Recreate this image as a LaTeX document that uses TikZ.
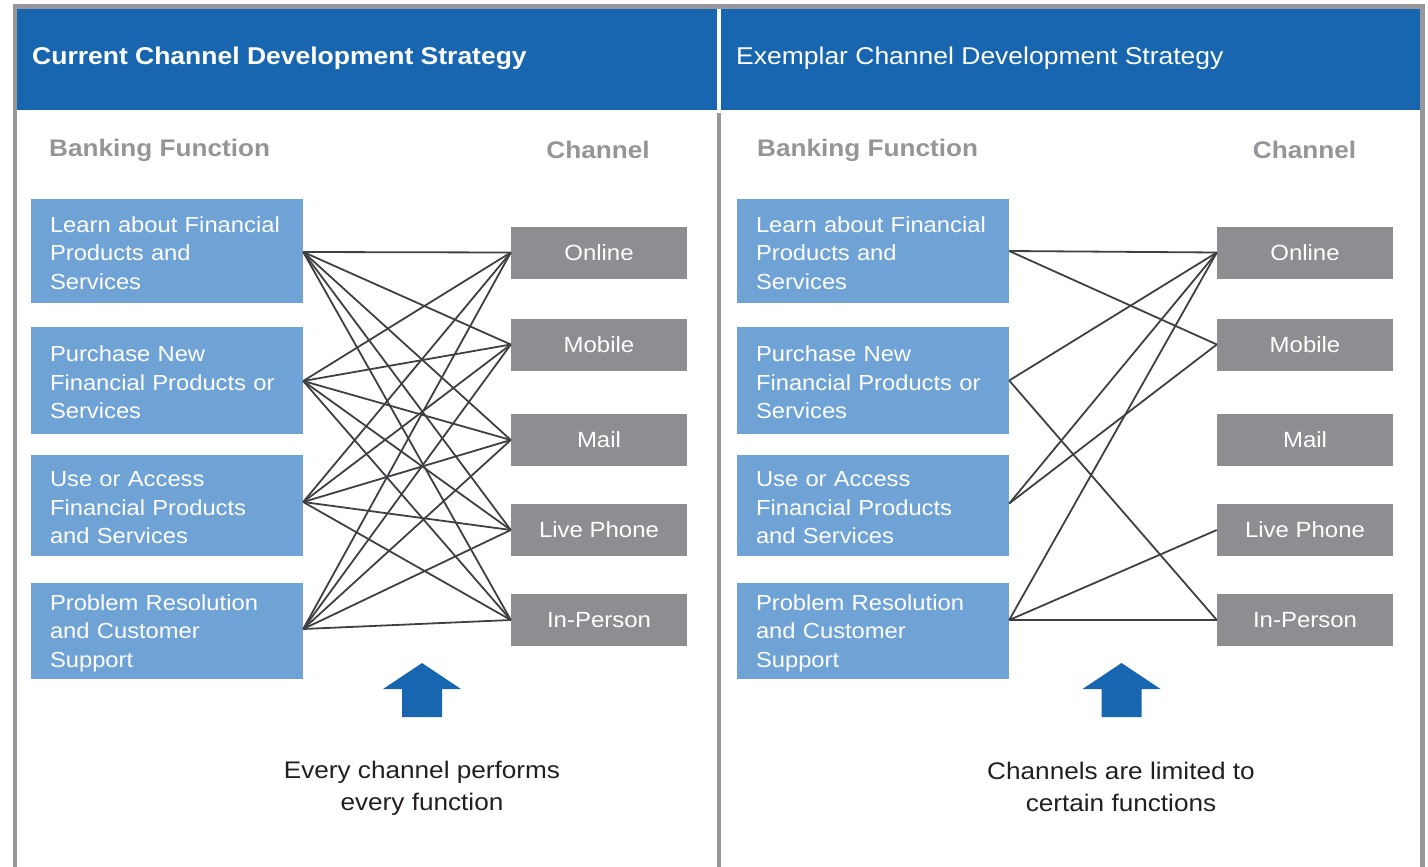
\documentclass[tikz,border=0pt]{standalone}
\usepackage{fontspec}
\setmainfont{Liberation Sans}[FakeStretch=1.09]
\definecolor{hdrblue}{HTML}{1866B0}
\definecolor{funcblue}{HTML}{6FA3D5}
\definecolor{chgray}{HTML}{8C8E91}
\definecolor{headgray}{HTML}{939598}
\definecolor{framegray}{HTML}{97989B}
\definecolor{linkgray}{HTML}{3F4043}
\definecolor{captext}{HTML}{231F20}
\begin{document}
\begin{tikzpicture}[x=1pt,y=-1pt,
  funcbox/.style={fill=funcblue, text=white, minimum width=272pt, text width=234pt, inner xsep=19pt, inner ysep=0pt, align=left, text height=20pt, font=\fontsize{21.8}{28.5}\selectfont},
  chanbox/.style={fill=chgray, text=white, minimum width=176pt, minimum height=52pt, inner sep=0pt, font=\fontsize{22}{26}\selectfont},
  colhead/.style={text=headgray, inner sep=0pt, font=\bfseries\fontsize{24}{28}\selectfont},
  titletext/.style={text=white, inner sep=0pt, anchor=west, font=\fontsize{24.3}{28}\selectfont},
  caption/.style={text=captext, inner sep=0pt, align=center, font=\fontsize{24}{32}\selectfont},
  link/.style={draw=linkgray, line width=1.8pt},
  uparrow/.style={fill=hdrblue, draw=none}
]
\useasboundingbox (0,0) rectangle (1428,867);
\clip (0,0) rectangle (1428,867);
% frame and headers
\draw[framegray, line width=4.5pt] (15,920) -- (15,6.5) -- (1422.5,6.5) -- (1422.5,920);
\fill[hdrblue] (17,9) rectangle (717,110);
\fill[hdrblue] (721,9) rectangle (1420,110);
\draw[framegray, line width=4pt] (719,113) -- (719,920);
\node[titletext, font=\bfseries\fontsize{24.3}{28}\selectfont] (t1) at (32,58) {Current Channel Development Strategy};
\node[titletext] (t2) at (736,58) {Exemplar Channel Development Strategy};

% ---------- left panel ----------
\node[colhead, anchor=west] (bf1) at (49,150) {Banking Function};
\node[colhead] (ch1) at (598,150) {Channel};

\node[funcbox, minimum height=104pt] (L1) at (167,251) {Learn about Financial\\Products and\\Services};
\node[funcbox, minimum height=107pt] (L2) at (167,380.5) {Purchase New\\Financial Products or\\Services};
\node[funcbox, minimum height=101pt] (L3) at (167,505.5) {Use or Access\\Financial Products\\and Services};
\node[funcbox, minimum height=96pt] (L4) at (167,631) {Problem Resolution\\and Customer\\Support};

\node[chanbox] (C1) at (599,252.5) {Online};
\node[chanbox] (C2) at (599,344.5) {Mobile};
\node[chanbox] (C3) at (599,440) {Mail};
\node[chanbox] (C4) at (599,530) {Live Phone};
\node[chanbox] (C5) at (599,620) {In-Person};

\foreach \f/\s in {L1/-1,L2/-0.5,L3/3.5,L4/2}{
  \foreach \c in {C1,C2,C3,C4,C5}{
    \draw[link] ([yshift=\s pt]\f.east) -- (\c.west);
  }
}

\fill[uparrow] (422,663) -- (461,689) -- (442,689) -- (442,717) -- (402,717) -- (402,689) -- (383,689) -- cycle;
\node[caption] (cap1) at (422,788) {Every channel performs\\every function};

% ---------- right panel ----------
\node[colhead, anchor=west] (bf2) at (757,150) {Banking Function};
\node[colhead] (ch2) at (1304.5,150) {Channel};

\node[funcbox, minimum height=104pt] (R1) at (873,251) {Learn about Financial\\Products and\\Services};
\node[funcbox, minimum height=107pt] (R2) at (873,380.5) {Purchase New\\Financial Products or\\Services};
\node[funcbox, minimum height=101pt] (R3) at (873,505.5) {Use or Access\\Financial Products\\and Services};
\node[funcbox, minimum height=96pt] (R4) at (873,631) {Problem Resolution\\and Customer\\Support};

\node[chanbox] (D1) at (1305,252.5) {Online};
\node[chanbox] (D2) at (1305,344.5) {Mobile};
\node[chanbox] (D3) at (1305,440) {Mail};
\node[chanbox] (D4) at (1305,530) {Live Phone};
\node[chanbox] (D5) at (1305,620) {In-Person};

\draw[link] (R1.east) -- (D1.west);
\draw[link] (R1.east) -- (D2.west);
\draw[link] (R2.east) -- (D1.west);
\draw[link] (R2.east) -- (D5.west);
\draw[link] ([yshift=2pt]R3.east) -- (D1.west);
\draw[link] ([yshift=2pt]R3.east) -- (D2.west);
\draw[link] ([yshift=11pt]R4.east) -- (D1.west);
\draw[link] ([yshift=11pt]R4.east) -- (D4.west);
\draw[link] ([yshift=11pt]R4.east) -- (D5.west);

\fill[uparrow] (1121.5,663) -- (1160.5,689) -- (1141.5,689) -- (1141.5,717) -- (1101.5,717) -- (1101.5,689) -- (1082.5,689) -- cycle;
\node[caption] (cap2) at (1121,787) {Channels are limited to\\certain functions};
\end{tikzpicture}
\end{document}
